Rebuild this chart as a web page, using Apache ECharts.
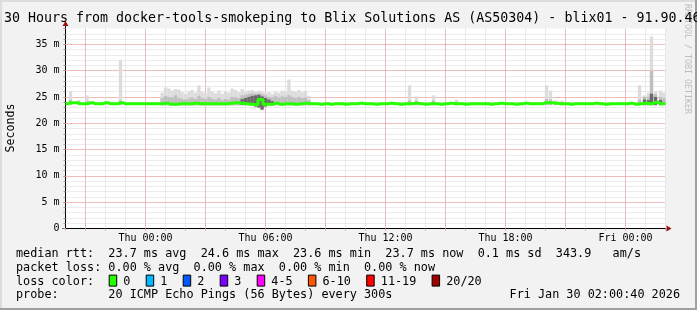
<!DOCTYPE html>
<html><head><meta charset="utf-8">
<script src="https://cdn.jsdelivr.net/npm/echarts@6/dist/echarts.min.js"></script>
<style>html,body{margin:0;padding:0;background:#f2f2f2;overflow:hidden}#c{width:697px;height:310px}</style>
</head><body><div id="c"></div><script>
// ---- data ----
const titleText = '30 Hours from docker-tools-smokeping to Blix Solutions AS (AS50304) - blix01 - 91.90.46';
// x = hours since Wed 20:00
const xLabelHours = [4, 10, 16, 22, 28];
const xLabelText = ['Thu 00:00', 'Thu 06:00', 'Thu 12:00', 'Thu 18:00', 'Fri 00:00'];
const majorHours = [1, 4, 7, 10, 13, 16, 19, 22, 25, 28];
const yMax = 38;
// median rtt (ms), one value every 15 minutes from Wed 20:00
const medianStep = 0.25;
const medianRtt = [
 23.7,23.9,23.9,23.7, 23.7,23.9,23.7,23.7, 23.9,23.7,23.7,23.9, 23.7,23.7,23.7,23.7,
 23.7,23.7,23.7,23.7, 23.8,23.6,23.6,23.7, 23.7,23.7,23.8,23.7, 23.7,23.7,23.7,23.7,
 23.7,23.8,23.9,23.8, 23.7,23.6,23.5,24.5, 23.6,23.6,23.8,23.6, 23.7,23.7,23.6,23.7,
 23.8,23.7,23.7,23.6, 23.7,23.6,23.7,23.7, 23.6,23.7,23.7,23.8, 23.7,23.7,23.6,23.7,
 23.7,23.8,23.7,23.6, 23.7,23.7,23.8,23.7, 23.6,23.7,23.7,23.6, 23.7,23.8,23.7,23.7,
 23.6,23.7,23.7,23.7, 23.7,23.6,23.7,23.8, 23.7,23.7,23.6,23.7, 23.8,23.7,23.7,23.7,
 23.9,23.9,23.8,23.7, 23.7,23.6,23.7,23.7, 23.7,23.7,23.8,23.7, 23.6,23.7,23.7,23.7,
 23.7,23.8,23.6,23.7, 23.8,23.7,24.0,23.7, 23.7
];
// smoke columns (10 minute samples), ms
const smokeColumn = 1/6;
const smokeTime = [0.25,0.67,1.08,2.75,
 4.83,5.0,5.17,5.33,5.5,5.67,5.83,6.0,6.17,6.33,6.5,6.67,6.83,7.0,7.17,7.33,7.5,7.67,7.83,8.0,8.17,8.33,8.5,8.67,8.83,
 9.0,9.17,9.33,9.5,9.67,9.83,10.0,10.17,10.33,10.5,10.67,10.83,11.0,11.17,11.33,11.5,11.67,11.83,12.0,12.17,
 17.2,17.55,18.4,19.55, 24.05,24.25,24.5,24.83, 28.7,28.95,29.15,29.3,29.5,29.75,29.92];
const smokeMax = [26.1,24.4,25.3,32.0,
 25.8,26.8,26.6,26.2,26.5,26.4,25.9,25.6,26.0,26.3,25.8,27.2,26.0,25.7,26.8,26.0,25.7,26.2,25.6,26.0,25.8,26.6,26.3,25.9,26.5,
 26.0,26.2,26.3,26.0,26.2,26.0,25.8,25.9,25.6,26.0,25.8,26.2,26.0,28.3,26.2,26.0,26.3,25.9,26.1,25.2,
 27.2,25.1,25.3,24.5, 27.2,26.2,24.4,24.3, 27.2,25.3,25.8,36.5,26.0,26.2,25.8];
const smokeMin = [23.4,23.4,23.4,23.4,
 23.3,23.3,23.3,23.3,23.3,23.3,23.3,23.3,23.3,23.3,23.3,23.3,23.3,23.3,23.3,23.3,23.3,23.3,23.3,23.3,23.3,23.3,23.3,23.3,23.3,
 23.3,23.3,23.3,23.0,22.8,22.4,23.0,23.3,23.3,23.3,23.3,23.3,23.3,23.3,23.3,23.3,23.3,23.3,23.3,23.3,
 23.4,23.4,23.4,23.4, 23.4,23.4,23.4,23.4, 23.4,23.3,23.3,23.3,23.3,23.3,23.4];
const smokeQ3 = [24.4,24.0,24.2,24.3,
 24.8,25.2,25.0,24.9,25.3,24.8,24.6,24.5,24.7,24.9,24.6,25.2,24.8,24.6,25.0,24.7,24.5,24.8,24.4,24.6,24.5,25.0,24.9,24.8,25.3,
 25.4,25.6,25.7,25.6,25.7,25.5,25.3,25.0,24.9,25.2,24.9,25.1,25.0,25.3,25.0,24.8,25.0,24.8,24.9,24.4,
 24.3,24.2,24.3,24.1, 24.6,24.5,24.0,24.0, 24.5,25.0,25.0,30.0,25.5,25.0,24.8];
const smokeQ1 = [23.5,23.5,23.5,23.5,
 23.5,23.5,23.5,23.5,23.5,23.5,23.5,23.5,23.5,23.5,23.5,23.5,23.5,23.5,23.5,23.5,23.5,23.5,23.5,23.5,23.5,23.5,23.5,23.5,23.5,
 23.5,23.5,23.5,23.2,23.0,22.8,23.2,23.5,23.5,23.5,23.5,23.5,23.5,23.5,23.5,23.5,23.5,23.5,23.5,23.5,
 23.5,23.5,23.5,23.5, 23.5,23.5,23.5,23.5, 23.5,23.5,23.5,23.5,23.5,23.5,23.5];
const N = null;
const denseHi = [N,N,N,N,
 N,N,N,N,N,N,N,N,N,N,N,N,N,N,N,N,N,N,N,N,N,N,N,N,24.6,
 24.8,25.0,25.2,25.3,25.4,25.1,24.8,24.5,24.2,N,N,N,N,N,N,N,N,N,N,N,
 N,N,N,N, N,N,N,N, N,24.5,24.4,25.6,25.0,24.4,N];
const denseLo = [N,N,N,N,
 N,N,N,N,N,N,N,N,N,N,N,N,N,N,N,N,N,N,N,N,N,N,N,N,23.5,
 23.5,23.5,23.5,23.2,23.0,22.6,23.2,23.5,23.5,N,N,N,N,N,N,N,N,N,N,N,
 N,N,N,N, N,N,N,N, N,23.5,23.5,23.5,23.5,23.5,N];
const rttStats = ['23.7', '24.6', '23.6', '23.7', '0.1', '343.9'];
const lossStats = ['0.00', '0.00', '0.00', '0.00'];
const lossLabels = ['0', '1', '2', '3', '4-5', '6-10', '11-19', '20/20'];
const lossColors = ['#26ff00', '#00b8ff', '#0059ff', '#7e00ff', '#ff00ff', '#ff5500', '#ff0000', '#a00000'];
const probeText = '20 ICMP Echo Pings (56 Bytes) every 300s';
const dateText = 'Fri Jan 30 02:00:40 2026';

// ---- chart ----
const F = 'DejaVu Sans Mono';
const chart = echarts.init(document.getElementById('c'), null, {renderer: 'canvas'});

function band(lo, hi, color) {
  const data = [];
  smokeTime.forEach((t, i) => { if (lo[i] != null && hi[i] != null) data.push([t, lo[i], hi[i]]); });
  return {
    type: 'custom', xAxisIndex: 0, yAxisIndex: 0, silent: true, animation: false, z: 2,
    data: data, encode: {x: 0, y: [1, 2]},
    renderItem(params, api) {
      const t = api.value(0), a = api.value(1), b = api.value(2);
      const top = api.coord([t, b]), bot = api.coord([t, a]);
      const w = api.size([smokeColumn, 0])[0];
      return {type: 'rect', shape: {x: top[0] - w / 2, y: top[1], width: w, height: bot[1] - top[1]}, style: {fill: color}};
    }
  };
}

const medianData = medianRtt.map((v, i) => [i * medianStep, v]);
const minorGrid = {color: '#d8d8d8', type: [1, 1], width: 1};
const majorColor = '#ee9090';

chart.setOption({
  animation: false,
  backgroundColor: '#f2f2f2',
  grid: {left: 65.5, top: 28.5, width: 600, height: 200, show: true, backgroundColor: '#ffffff', borderWidth: 0, containLabel: false, outerBoundsMode: 'none'},
  xAxis: [{
    type: 'value', min: 0, max: 30, interval: 1, z: 0,
    axisLine: {show: true, onZero: false, lineStyle: {color: '#000', width: 1}},
    axisTick: {show: true, length: 2, lineStyle: {color: '#b0b0b0'}},
    axisLabel: {margin: 5, fontFamily: F, fontSize: 10, color: '#000',
      formatter: v => { const i = xLabelHours.indexOf(v); return i < 0 ? '' : xLabelText[i]; }},
    splitLine: {show: true, showMinLine: false, lineStyle: minorGrid}
  }],
  yAxis: [{
    type: 'value', min: 0, max: yMax, interval: 1, z: 0,
    axisLine: {show: true, onZero: false, lineStyle: {color: '#000', width: 1}},
    axisTick: {show: true, length: 2, lineStyle: {color: '#a0a0a0'}},
    axisLabel: {show: false},
    splitLine: {show: true, showMinLine: false, showMaxLine: false, lineStyle: minorGrid}
  }, {
    type: 'value', min: 0, max: yMax, interval: 5, position: 'left', z: 1,
    axisLine: {show: false},
    axisTick: {show: true, length: 2, lineStyle: {color: '#e08080'}},
    axisLabel: {margin: 6, fontFamily: F, fontSize: 10, color: '#000',
      formatter: v => (v % 5 !== 0 ? '' : (v === 0 ? '0' : v + ' m'))},
    splitLine: {show: true, showMinLine: false, showMaxLine: false, lineStyle: {color: majorColor, type: [1, 1], width: 1}}
  }],
  series: [
    {type: 'custom', silent: true, animation: false, z: 1, data: majorHours.map(h => [h]), encode: {x: 0},
     renderItem(params, api) {
       const h = api.value(0);
       const b = api.coord([h, 0]), t = api.coord([h, yMax]);
       const x = Math.floor(b[0]) + 0.5;
       return {type: 'line', shape: {x1: x, y1: b[1], x2: x, y2: t[1]}, style: {stroke: majorColor, lineWidth: 1, lineDash: [1, 1]}};
     }},
    band(smokeMin, smokeMax, '#dcdcdc'),
    band(smokeQ1, smokeQ3, '#bfbfbf'),
    band(denseLo, denseHi, '#6a6a6a'),
    {type: 'line', data: medianData, step: 'middle', symbol: 'none', silent: true, animation: false,
     lineStyle: {color: '#26ff00', width: 3}, z: 5}
  ]
});

// ---- decorations (text, legend, frame, arrows) ----
const o = chart.convertToPixel({gridIndex: 0}, [0, 0]);
const tr = chart.convertToPixel({gridIndex: 0}, [30, yMax]);
const g = [];
g.push({type: 'rect', shape: {x: 0, y: 0, width: 697, height: 2}, style: {fill: '#dcdcdc'}, silent: true});
g.push({type: 'rect', shape: {x: 0, y: 0, width: 2, height: 310}, style: {fill: '#dcdcdc'}, silent: true});
g.push({type: 'rect', shape: {x: 0, y: 308, width: 697, height: 2}, style: {fill: '#a0a0a0'}, silent: true});
g.push({type: 'rect', shape: {x: 695, y: 0, width: 2, height: 310}, style: {fill: '#a0a0a0'}, silent: true});
g.push({type: 'text', x: 687, y: 4, rotation: -Math.PI / 2, silent: true,
  style: {text: 'RRDTOOL / TOBI OETIKER', font: '8.3px "' + F + '"', fill: '#bdbdbd', align: 'left', verticalAlign: 'middle'}});
g.push({type: 'text', x: 4, y: 19, silent: true,
  style: {text: titleText, font: '13.3px "' + F + '"', fill: '#000', align: 'left', verticalAlign: 'middle'}});
g.push({type: 'text', x: 11, y: 128, rotation: Math.PI / 2, silent: true,
  style: {text: 'Seconds', font: '11.6px "' + F + '"', fill: '#000', align: 'center', verticalAlign: 'middle'}});
const ax = Math.floor(o[0]) + 0.5, ay = Math.floor(o[1]) + 0.5;
g.push({type: 'line', shape: {x1: ax, y1: tr[1], x2: ax, y2: tr[1] - 3}, style: {stroke: '#000', lineWidth: 1}, silent: true});
g.push({type: 'polygon', shape: {points: [[ax - 3, tr[1] - 2.5], [ax + 3, tr[1] - 2.5], [ax, tr[1] - 7.5]]}, style: {fill: '#9a1010'}, silent: true});
g.push({type: 'line', shape: {x1: ax - 3, y1: ay, x2: ax, y2: ay}, style: {stroke: '#000', lineWidth: 1}, silent: true});
g.push({type: 'polygon', shape: {points: [[tr[0] + 1, ay - 3], [tr[0] + 1, ay + 3], [tr[0] + 6, ay]]}, style: {fill: '#9a1010'}, silent: true});
const rowY = [254.4, 268.0, 281.6, 295.2];
const lx = 16, cw = 7.1, lf = '11.8px "' + F + '"';
const row1 = 'median rtt:  ' + rttStats[0] + ' ms avg  ' + rttStats[1] + ' ms max  ' + rttStats[2] + ' ms min  ' +
  rttStats[3] + ' ms now  ' + rttStats[4] + ' ms sd  ' + rttStats[5] + '   am/s';
const row2 = 'packet loss: ' + lossStats[0] + ' % avg  ' + lossStats[1] + ' % max  ' + lossStats[2] + ' % min  ' + lossStats[3] + ' % now';
const row4 = 'probe:       ' + probeText;
[[row1, 0], [row2, 1], ['loss color:', 2], [row4, 3]].forEach(([t, r]) => {
  g.push({type: 'text', x: lx, y: rowY[r], silent: true, style: {text: t, font: lf, fill: '#000', align: 'left', verticalAlign: 'middle'}});
});
g.push({type: 'text', x: 680, y: rowY[3], silent: true, style: {text: dateText, font: lf, fill: '#000', align: 'right', verticalAlign: 'middle'}});
let bx = 108.7;
lossLabels.forEach((lab, i) => {
  g.push({type: 'rect', shape: {x: bx + 0.5, y: rowY[2] - 6.5, width: 7.5, height: 11}, style: {fill: lossColors[i], stroke: '#000', lineWidth: 1}, silent: true});
  g.push({type: 'text', x: bx + 14.6, y: rowY[2], silent: true, style: {text: lab, font: lf, fill: '#000', align: 'left', verticalAlign: 'middle'}});
  bx += 14.6 + lab.length * cw + 15.3;
});
chart.setOption({graphic: {elements: g}});
</script></body></html>
